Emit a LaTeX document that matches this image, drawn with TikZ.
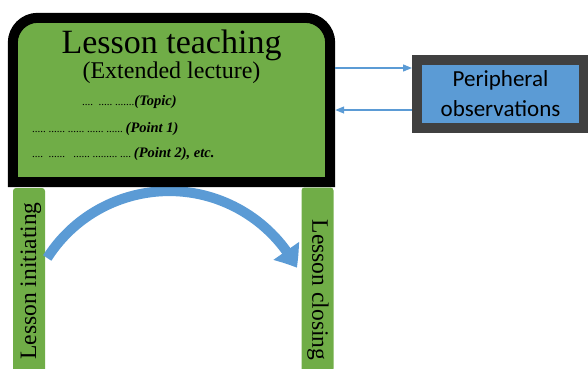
\documentclass[tikz,border=0pt]{standalone}
\usepackage{fontspec}
\setmainfont{Liberation Serif}
\newfontfamily\calib{Carlito}
\usetikzlibrary{arrows.meta,calc,bending}
\definecolor{boxgreen}{HTML}{70AD47}
\definecolor{boxblue}{HTML}{5B9BD5}
\definecolor{darkedge}{HTML}{404040}
\newcommand\dotsz{\fontsize{11}{13}\selectfont}
\newcommand\parsz{\fontsize{14.5}{17}\selectfont\bfseries\itshape}
\begin{document}
\begin{tikzpicture}[x=1pt,y=1pt,
  conn/.style={draw=boxblue, line width=1.3pt, -{Triangle[length=9pt,width=7pt]}},
  barbox/.style={fill=boxgreen, rounded corners=3pt, minimum width=32pt, minimum height=184pt, inner sep=0pt},
  dotline/.style={anchor=base west, inner sep=0pt},
  bartext/.style={font=\fontsize{23.5}{28}\selectfont, inner sep=0pt}]
\useasboundingbox (0,0) rectangle (588,-368);

% placeholders
\node[inner sep=0pt, minimum width=327pt, minimum height=174pt] (teach) at (171.5,-100) {};
\node[barbox] (initbar) at (29,-280) {};
\node[barbox] (closebar) at (317.5,-279.5) {};
\coordinate (arcstart) at ([xshift=2pt]initbar.east |- 0,-258);

% curved arrow
\draw[line width=10pt, boxblue, -{Triangle[length=20pt,width=30pt,bend]}]
  (arcstart) arc[start angle=147.5, end angle=28, radius=144.6];

% main box
\filldraw[fill=boxgreen, draw=black, line width=10pt]
  ($(teach.south west)+(5,5)$) -- ($(teach.north west)+(5,-30)$)
  arc[start angle=180, end angle=90, radius=25]
  -- ($(teach.north east)+(-30,-5)$)
  arc[start angle=90, end angle=0, radius=25]
  -- ($(teach.south east)+(-5,5)$) -- cycle;

\node[anchor=base, font=\fontsize{34}{40}\selectfont] (title) at (171.5,-53) {Lesson teaching};
\node[anchor=base, font=\fontsize{24}{28}\selectfont] (sub) at (171.5,-78) {(Extended lecture)};
\node[dotline] (l1) at (82,-105) {\dotsz ....~~.....~.......\parsz(Topic)};
\node[dotline] (l2) at (32,-132) {\dotsz .....~......~......~......~......~\parsz(Point 1)};
\node[dotline] (l3) at (32,-157) {\dotsz ....~~......~~~......~.........~....~\parsz(Point 2), etc.};

% bar texts
\node[bartext, rotate=90] (inittext) at (31,-281) {Lesson initiating};
\node[bartext, rotate=-90] (closetext) at (318,-290) {Lesson closing};

% peripheral
\node[draw=darkedge, line width=10pt, fill=boxblue, minimum width=167pt, minimum height=68pt,
      inner sep=0pt, font=\calib\fontsize{23}{30}\selectfont, align=center] (peri) at (500.5,-93.5)
      {Peripheral\\observations};

\draw[conn] (teach.east |- 0,-68) -- (peri.west |- 0,-68);
\draw[conn] (peri.west |- 0,-110) -- (teach.east |- 0,-110);
\end{tikzpicture}
\end{document}
